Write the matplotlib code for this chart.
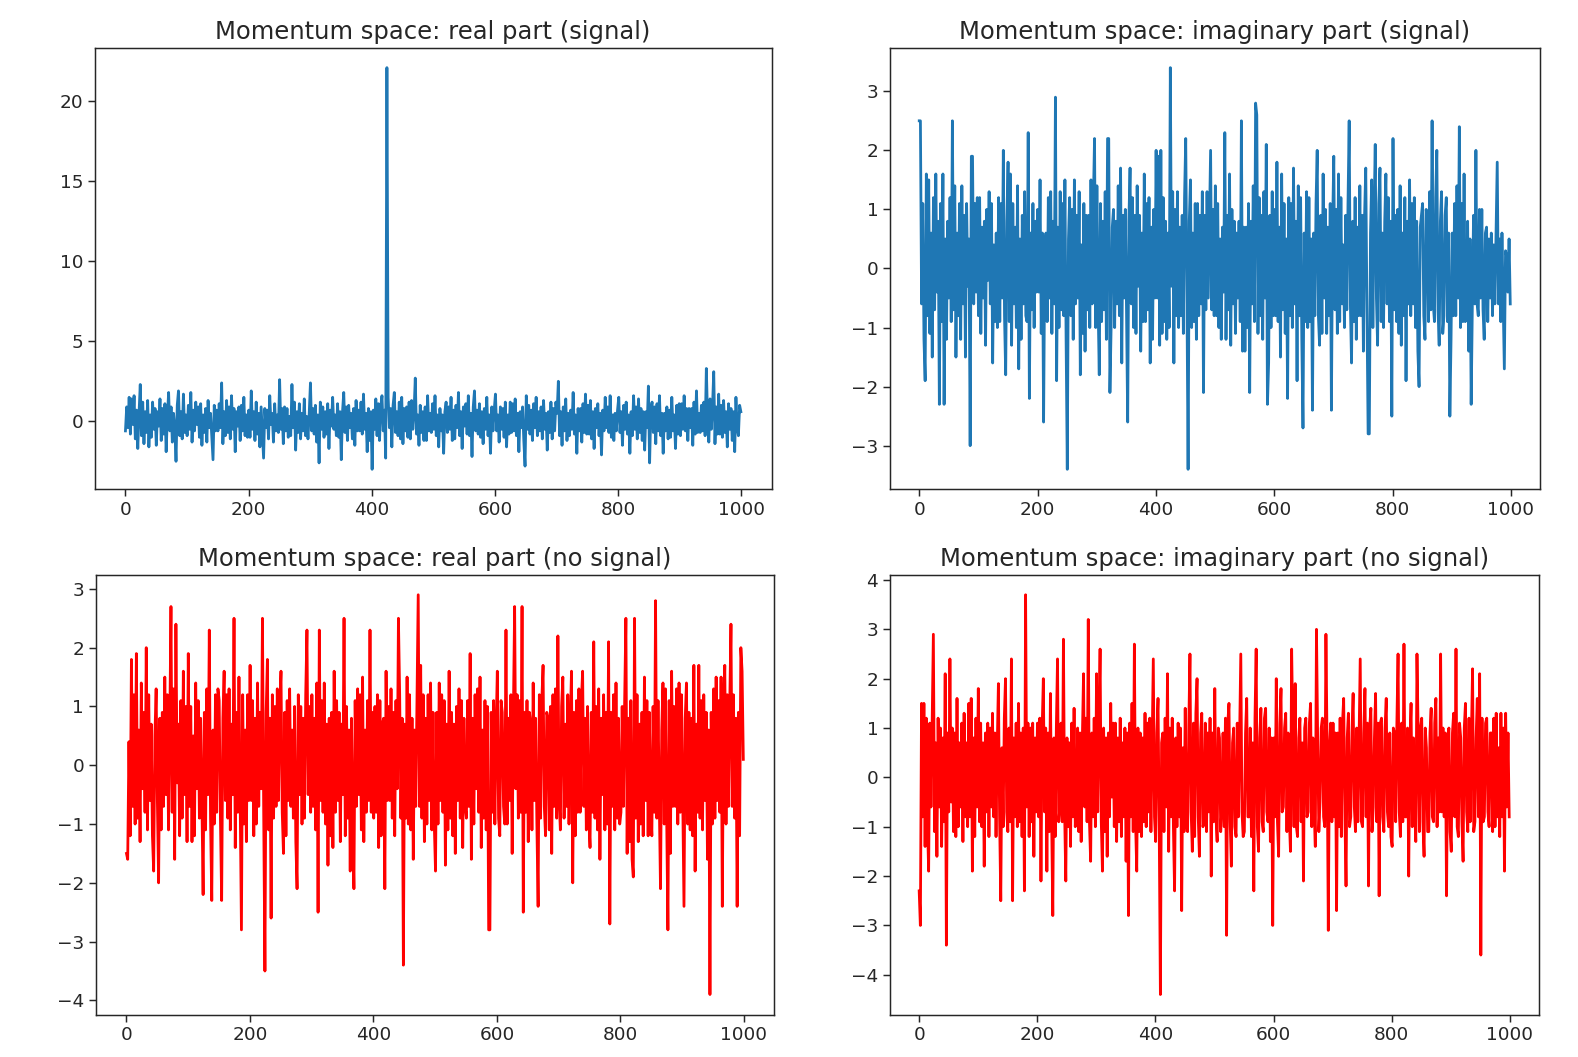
import numpy as np
import matplotlib
matplotlib.use("Agg")
import matplotlib.pyplot as plt

titles = [
    "Momentum space: real part (signal)",
    "Momentum space: imaginary part (signal)",
    "Momentum space: real part (no signal)",
    "Momentum space: imaginary part (no signal)",
]

real_signal = [
    -0.6, 0.9, -0.4, 1.5, -0.8, 1.4, -0.2, 1.6, -1.1, 0.7, -1.7, 0.5, 2.3, -0.9, 1.2, -1.4, 0.6, -0.7, 1.3, -1.6, 0.4, -1.0, 1.2, -0.5, 0.8,
    -1.5, 0.6, -0.3, 1.4, -1.2, 0.8, -0.8, 1.1, -1.9, 0.3, 1.8, -0.6, 0.9, -1.3, 0.5, -0.4, -2.5, 1.0, 1.9, -0.9, 0.6, -1.1, 1.7, -0.7, 0.4,
    -0.9, 1.0, -0.5, 1.8, -1.3, 0.7, -0.6, 1.2, -0.2, 0.9, -1.0, 1.1, -1.5, 0.4, -0.7, 0.8, -1.3, 1.3, -0.4, 0.5, -0.9, -2.4, 1.0, -0.6, 0.7,
    -0.6, 1.1, -0.4, 2.4, -1.4, 0.6, -0.9, 1.3, -0.7, 0.9, -1.1, 1.6, -0.5, 0.8, -1.9, 0.6, -0.3, 0.9, -1.2, 1.0, -0.6, 1.5, -0.9, 0.4, -1.0,
    0.7, -1.0, 1.9, -0.5, 0.6, -1.2, 1.2, -0.8, 0.5, -1.6, 0.9, -0.7, -2.3, 0.8, -0.4, 0.7, -1.1, 1.6, -0.2, 0.5, -1.3, 1.1, -0.6, 0.4, -0.7,
    2.6, -0.5, 0.8, -1.4, 0.9, -0.6, 0.8, -1.0, 0.3, -0.9, 2.3, -0.4, 1.2, -1.8, 0.6, -0.7, 1.1, -1.1, 0.5, -0.6, 1.4, -0.9, 0.3, -1.1, 0.5,
    2.4, -0.6, 0.8, -0.8, 1.0, -1.3, 0.4, -2.6, 1.2, -0.5, 0.9, -1.0, 0.6, -0.8, 1.1, -1.7, 0.7, -0.3, 1.5, -0.5, 0.4, -0.9, 1.1, -1.0, 0.6,
    -2.4, 0.6, 1.8, -0.7, 0.9, -1.2, 1.0, -0.4, 0.5, -1.1, 0.8, -1.5, 1.3, -0.6, 0.7, -0.6, 1.2, -0.8, 1.7, -0.5, 0.5, -1.9, 0.8, -1.2, 0.6,
    -3.0, 0.7, -0.5, 1.4, -0.9, 1.1, -1.2, 0.9, 1.6, -0.6, 0.7, -2.3, 22.1, 1.5, -0.4, 0.8, -1.6, 1.0, 1.8, -0.7, 0.6, -0.9, 1.2, -1.1, 1.5,
    -1.4, 0.8, -0.6, 0.9, -1.0, 1.2, -1.1, 1.3, -0.5, 0.6, 2.7, -0.8, 0.4, -1.5, 1.0, -0.7, 0.6, -1.2, 0.9, -1.2, 1.6, -0.6, 0.5, -0.7, 1.1,
    -0.5, 1.6, -0.9, 0.4, -1.6, 0.8, -0.6, 0.4, -2.0, 0.6, 1.2, -0.7, 0.9, -0.5, 1.5, -1.2, 0.7, -1.1, 1.0, -0.4, 1.8, -0.9, 0.6, -1.7, 0.9,
    -0.3, 1.1, -0.8, 1.6, -0.9, 0.5, -2.2, 0.9, 1.9, -0.6, 0.7, -0.8, 1.1, -1.0, 0.6, -1.4, 0.8, -0.5, 1.5, -0.9, 0.4, -2.0, 0.9, -0.6, 0.7,
    1.7, -0.6, 0.4, -1.3, 0.9, -0.5, 0.8, -1.0, 1.2, -1.6, 0.4, -0.8, 1.2, -0.7, 1.1, -0.6, 1.4, -0.9, 0.5, -1.9, 0.6, -0.4, 0.9, -1.2, -2.8,
    1.6, -0.5, 1.0, -0.8, 0.7, -1.2, 1.1, -0.4, 1.5, -0.9, 0.6, -0.6, 0.9, -1.1, 1.3, -0.5, 0.5, -1.8, 0.6, -0.7, 1.2, -1.1, 0.8, -0.6, 1.2,
    0.5, 2.5, -0.9, 0.6, -1.5, 0.9, -0.6, 1.4, -1.2, 0.5, -0.9, 0.7, -0.5, 1.8, -0.8, 0.4, -2.0, 0.8, -0.6, 0.8, -1.3, 1.1, -0.7, 1.7, -0.8,
    1.0, -0.8, 1.3, -1.1, 0.6, -1.7, 0.8, -0.4, 1.1, -0.9, 0.5, -2.1, 0.7, -0.6, 1.5, -0.4, 0.9, -0.7, 1.6, -1.0, 0.4, -1.2, 0.5, -0.6, 0.7,
    1.5, -0.7, 0.6, -1.5, 1.0, -0.5, 1.2, -0.8, 0.4, -2.0, 0.6, -0.9, 1.6, -0.5, 0.9, -1.1, 1.4, -0.7, 0.8, -1.2, 0.6, -1.8, 0.6, -0.4, 2.2,
    -2.6, 0.8, 1.2, -0.7, 0.9, -1.4, 1.1, -0.6, 1.6, -0.9, 0.5, -2.0, 0.5, -0.6, 0.9, -1.1, 0.7, -1.0, 1.5, -0.6, 0.4, -1.7, 1.0, -0.8, 1.1,
    -0.9, 1.1, -0.5, 1.6, -0.6, 0.8, -1.2, 0.8, -0.4, 0.8, -1.5, 1.2, -0.8, 1.9, -0.7, 0.5, -0.7, 1.0, -0.6, 1.2, -0.9, 3.3, 0.2, -1.3, 1.4,
    -0.5, 0.9, 3.1, -1.4, 0.9, -0.8, 1.7, -0.8, 1.0, -1.0, 1.3, -0.7, 0.6, -1.6, 1.1, -0.5, 0.8, -1.2, 0.6, -1.9, 1.5, -0.4, -0.9, 1.0, 0.6,
]

imag_signal = [
    2.5, 2.5, -0.6, 1.1, -1.2, -1.9, 1.6, -0.8, 1.5, -1.1, 0.6, -1.5, 1.2, -0.7, 1.6, -0.4, 0.8, -2.3, 1.1, -0.9, 1.6, -2.3, 0.5, -1.2, 0.8,
    -0.5, 1.2, -0.9, 2.5, -0.7, 1.4, -1.5, 0.6, -0.8, 1.1, -1.2, 1.4, -0.6, 0.9, -1.5, 1.1, -0.3, 0.5, -3.0, 1.9, 1.9, -0.6, 1.1, -0.4, 1.2,
    -0.8, 1.2, -1.1, 0.7, -0.5, 0.8, -1.3, 1.0, -0.2, 1.3, -0.6, 1.1, -1.6, 0.4, -0.9, 0.6, -1.0, 1.2, -0.9, 1.1, -0.5, 2.0, -0.8, -1.8, 0.8,
    1.8, -0.9, 1.6, -1.3, 1.1, -0.6, 0.7, -1.0, 1.4, -1.7, 0.5, -1.2, 0.9, -0.6, 1.3, -0.8, -0.9, 2.3, -2.2, 0.6, -0.7, 1.1, -1.0, 0.8, -0.4,
    1.0, -0.4, 1.5, -1.1, 0.6, -2.6, 0.3, 0.6, -0.9, 1.2, -0.5, 1.3, -1.1, 0.8, -0.6, 2.9, -1.9, 0.7, -1.0, 1.3, -0.7, 1.1, -0.8, 1.5, -1.2,
    -3.4, 0.5, 1.2, -0.8, 1.0, -1.2, 1.5, -0.6, 0.9, -0.5, 1.3, -1.8, 0.4, -1.1, 1.1, -1.4, 0.9, -0.7, 0.9, -1.0, 1.5, -0.6, 1.1, 2.2, -1.0,
    1.4, -0.6, -1.8, 1.1, -0.9, 0.8, -0.7, 1.3, -1.2, 2.2, 2.2, -2.1, -1.0, 0.7, 1.0, -1.0, 0.8, -0.6, 1.4, -0.8, 1.7, -1.6, 0.9, -0.5, 1.0,
    -0.7, -2.6, 0.8, 1.7, -0.6, 1.2, -1.0, 0.9, -1.1, 1.4, -0.3, 0.9, -1.4, 0.6, -0.9, 1.6, -0.9, 1.1, -0.7, 1.2, -1.6, 0.7, -1.2, 1.0, -0.5,
    2.0, -0.5, 1.9, -1.3, 2.0, -1.1, 1.2, -0.9, 0.8, -1.2, 0.6, -1.0, 3.4, -0.3, 1.3, -1.6, 1.0, -0.8, 1.3, -1.0, 0.7, -0.8, 0.9, -1.1, 1.2,
    2.2, -0.4, -3.4, 0.8, 1.5, -1.0, 0.6, -0.9, 1.1, -1.2, 1.1, -0.8, 0.9, -0.6, 1.3, -2.1, 0.9, -0.7, 1.3, -0.5, 0.8, 2.0, -0.7, 1.0, -0.8,
    1.4, -0.8, 1.1, -1.0, 0.5, -1.2, 0.7, -0.4, 2.3, -1.2, 0.9, -0.7, 1.6, -1.3, 1.0, -0.6, 0.8, -1.1, 0.6, -0.5, 0.8, -0.9, 2.5, -1.4, 0.7,
    -1.4, 0.7, -1.0, 1.1, -2.1, 0.8, -0.6, 1.4, -0.9, 2.8, 2.6, -1.1, 1.2, -0.8, 0.9, -1.2, 1.3, -0.5, 2.1, -2.3, -1.6, 0.9, -1.0, 1.3, -0.8,
    1.0, -0.8, 1.8, -0.9, 0.7, -1.5, 1.6, -0.7, 1.1, -1.1, 0.5, -2.2, 1.2, -0.8, 1.1, -1.0, 1.7, -0.6, 0.8, -1.9, 1.4, -0.8, 1.2, -1.2, -2.7,
    0.6, -0.9, 1.3, -1.0, 1.2, -0.9, 0.5, -2.4, 0.6, -0.8, 1.1, 2.0, -0.8, -1.3, 0.9, -1.1, 1.6, -0.5, 1.0, -1.1, 0.7, -0.8, 1.1, -2.4, 0.7,
    1.9, -0.7, 1.0, -1.1, 1.6, -0.9, 1.2, -0.6, 0.4, -1.0, 0.9, -0.7, 1.1, 2.5, -0.6, -1.6, 0.8, -0.9, 1.2, -1.2, 0.7, -0.8, 1.4, -0.8, 0.9,
    -1.4, 0.9, 1.7, -0.7, -2.8, -2.8, 0.6, 1.5, -1.0, 0.9, 2.1, -0.5, -1.3, 1.1, 1.7, -0.9, 0.6, -1.0, 0.8, 1.6, -0.6, 1.2, -0.9, 0.8, -2.5,
    2.2, -0.7, 0.9, -0.9, 1.0, -1.1, 1.4, -1.3, 0.6, -0.8, 1.2, -1.9, 0.8, -0.6, 1.5, -0.8, 1.1, -0.6, 1.2, -1.0, 0.8, -1.4, -2.0, 0.7, 0.9,
    1.1, -0.8, -1.2, 1.0, 0.8, -0.9, 1.3, -0.7, 2.5, -0.6, -0.9, 1.2, 2.0, -0.7, -1.3, 0.8, 1.3, -1.1, -0.8, 0.9, 1.2, -0.9, 0.6, -2.5, -1.2,
    0.6, -0.8, 1.1, -0.8, 1.4, -0.5, 2.4, -1.0, 1.1, -0.9, 1.6, -0.9, -0.7, 0.8, -1.4, 0.5, -2.3, -0.6, 0.9, -0.6, 2.0, -0.6, -0.8, 1.0, -0.5,
    1.0, -0.7, -1.2, 0.6, 0.7, -0.9, 0.5, -0.5, 0.6, -0.8, 0.4, -0.6, 0.6, 1.8, -0.6, 0.5, -0.9, 0.6, -0.5, -1.7, 0.3, 0.2, -0.4, 0.5, -0.6,
]

real_nosignal = [
    -1.5, -1.6, 0.4, -1.2, 1.8, -0.7, 1.2, -1.0, 1.9, -0.9, 0.6, -1.3, 1.4, -0.4, 0.9, -0.8, 2.0, -1.1, 1.2, -0.6, 0.7, -1.2, -1.8, 0.5, 1.3,
    -0.6, -2.0, 0.8, -1.1, 0.9, -0.7, 1.5, -0.5, 1.2, -1.1, 0.6, 2.7, -0.8, 1.3, -1.6, 2.4, -0.3, 0.7, -1.2, 1.1, -0.9, 1.6, -0.5, 1.0, -1.3,
    1.9, -0.7, 1.0, -1.3, 0.5, -1.2, 1.4, -0.4, 1.1, -0.9, 0.8, -0.6, -2.2, 0.9, -1.1, 1.3, -0.5, 2.3, -0.9, -2.3, 0.6, -1.0, 1.2, -0.8, 1.3,
    1.1, -0.9, -2.3, 0.8, 1.6, -0.6, 1.2, -0.9, 1.3, -1.1, 0.7, -0.5, 2.5, -1.4, 0.9, -0.8, 1.5, -0.7, -2.8, 1.2, -1.0, 0.6, -1.3, 1.2, -0.6,
    1.7, -0.6, 1.1, -1.2, 0.8, -1.0, 1.4, -0.7, 0.9, -0.4, 2.5, -0.8, -3.5, 0.9, 1.8, -1.1, 0.8, -2.6, 1.2, -0.9, 1.0, -0.7, 1.3, -0.6, 1.0,
    1.6, -0.8, -1.5, 0.9, -1.2, 1.1, -0.6, 1.3, -0.7, 0.6, -0.9, 1.0, -1.3, -2.1, 1.2, -0.5, 1.0, -1.0, 0.8, -0.9, 1.2, 2.3, -0.5, 1.0, -0.8,
    1.2, -0.7, 0.8, -1.1, 1.4, -2.5, 2.3, -0.6, 1.1, -0.8, 1.4, -1.0, 0.7, -1.7, 0.8, -1.2, 0.9, -1.4, 1.6, -0.8, 1.1, -0.6, 0.9, -1.3, 0.7,
    -0.5, 2.5, -1.2, 1.0, -0.9, 0.6, -1.8, 0.8, -1.0, -2.1, 1.1, -0.7, 1.3, -0.5, 1.2, -1.1, 1.5, -1.3, 0.6, -0.8, 1.1, -0.6, 2.3, -0.8, 0.9,
    -0.9, 1.0, -0.8, 1.2, -1.4, 1.1, -1.2, 0.7, 0.8, -2.1, 1.6, -0.6, 1.0, -0.6, 1.3, -0.9, 0.9, -1.2, 1.1, -0.4, 2.5, 1.2, -0.9, 0.8, -3.4,
    0.7, -0.9, 1.5, -1.0, 1.2, -1.1, 0.8, -1.6, 0.6, -0.7, 1.1, 2.9, -0.7, 1.7, -0.9, 1.2, -1.3, 0.8, -1.0, 1.2, -0.6, 1.4, -1.1, 0.9, -1.0,
    -1.8, 0.9, -1.0, 1.4, -0.6, 1.2, -0.8, 1.1, -1.7, 0.7, -1.1, 1.6, -0.9, 0.9, -1.2, 0.7, -1.5, 1.0, -0.6, 1.3, -0.9, 1.1, -1.4, 0.8, -0.7,
    -0.9, 1.1, -0.7, 1.9, -1.6, 0.8, -1.0, 1.2, -0.4, 1.3, -0.8, 1.5, -1.4, 0.6, -0.9, 1.1, -1.1, 1.0, -2.8, -2.8, 0.9, -0.8, 1.1, -1.0, 0.6,
    1.6, -0.9, -1.2, 1.1, 0.9, -0.7, -1.0, 2.3, -1.0, 0.8, -0.6, 1.2, -1.5, 0.9, 2.7, -0.4, 1.2, -0.9, 1.1, -0.8, 2.7, -2.5, 0.9, -0.8, 1.1,
    -1.3, 0.9, 0.7, -1.1, 1.4, -0.6, 0.8, -1.0, -2.4, 1.2, -0.9, 1.1, 1.7, -0.7, -1.2, 0.9, 0.8, -1.1, 1.0, -1.5, 1.2, -0.7, 1.3, -0.9, 2.2,
    -0.6, -1.1, 1.0, 1.5, -0.9, 0.7, -0.7, 1.2, -1.0, 0.7, 1.6, -2.0, 0.9, -1.2, 1.1, -0.8, 1.3, -0.8, 1.1, 1.6, -0.7, 0.8, -1.1, 1.0, -0.9,
    -1.4, 0.9, -0.8, 2.1, -0.9, 1.0, -1.1, 1.3, -1.6, 0.8, -0.5, 1.2, -1.1, 0.9, -1.0, 2.1, -2.7, 0.9, -0.7, 1.2, -1.1, 1.4, -0.9, 0.8, -1.0,
    -0.8, 1.0, -0.7, 1.1, 2.5, -1.5, 0.8, -1.3, 1.1, -1.6, -1.9, 2.5, -0.9, 1.2, -1.3, 0.7, -1.0, 0.9, -1.2, 1.5, -0.6, 1.1, -1.2, 0.9, -0.7,
    -1.2, 1.0, -0.8, 2.8, -0.9, 1.1, -0.6, -2.1, 0.6, 1.4, -1.0, 1.3, -0.9, -2.8, 1.1, -1.5, 1.6, -0.7, 1.0, -0.7, 1.3, -1.0, 1.4, -0.8, 1.2,
    -0.6, -2.4, 0.8, 1.4, -1.0, 0.9, -1.1, 0.8, -1.2, 1.7, -1.8, 0.7, -0.8, 1.7, -0.9, 1.1, -1.1, 1.2, -0.6, 0.9, -1.6, 0.6, -3.9, 0.9, -1.0,
    1.3, -0.9, 1.5, -0.6, 1.1, -0.8, 1.5, -2.4, 0.9, 1.7, -1.0, 1.2, -0.7, 1.0, 2.4, -0.7, 1.2, -0.9, 0.8, -2.4, 0.9, -1.2, 2.0, 1.6, 0.1,
]

imag_nosignal = [
    -2.3, -3.0, 1.5, -0.8, 1.5, -1.4, 1.2, -0.9, -1.9, 1.1, -0.6, 1.2, 2.9, -1.1, 0.7, -1.6, 1.2, -0.6, 1.0, -1.4, 0.8, -0.9, 2.1, -3.4, 0.9,
    -0.7, 2.4, -0.5, 1.0, -1.1, 0.9, -1.2, 1.6, -1.0, 0.7, -0.6, 1.1, -1.3, 1.3, -0.8, 0.7, -1.0, 1.5, -0.8, 1.6, -1.9, 0.8, -1.2, 1.2, -0.6,
    1.8, -0.9, 1.1, -1.0, 0.7, -1.8, 0.9, -0.7, 1.1, -1.2, 1.0, -0.6, 1.3, -0.8, 0.9, -1.2, 0.6, 1.9, -0.8, -2.5, 0.6, -1.0, 1.2, 2.0, -0.7,
    -1.1, 1.0, -0.9, 2.4, -2.5, 0.8, -0.8, 1.1, -1.0, 1.5, -0.9, 0.9, -1.2, 1.0, -2.3, 3.7, -0.6, 1.1, -1.2, 1.0, -0.9, 1.1, -1.6, 0.8, -0.7,
    1.1, -0.8, 1.2, -2.1, 1.0, 2.0, -0.7, 1.0, -1.9, 0.9, -1.1, 1.7, -0.8, -2.8, 0.8, -1.2, 1.0, 2.4, -0.9, -0.6, 1.1, -0.9, 2.8, -0.7, -2.1,
    0.8, -1.0, 0.7, -1.4, 1.1, -0.8, 1.4, -1.0, -0.5, 1.0, -1.1, 0.9, -1.3, 0.8, 2.1, -0.6, 1.2, -0.9, 3.2, -0.9, -1.7, 0.9, -0.8, 1.2, -1.0,
    2.1, -0.7, 1.1, 2.6, -0.9, -1.9, 1.0, -1.1, 0.8, -1.6, 0.9, -0.8, 1.5, -0.4, 1.1, -1.0, 1.1, -1.3, 0.8, -0.9, 1.2, -1.2, 0.7, -0.8, 1.0,
    -1.7, 0.9, -2.8, 1.1, -0.8, 1.5, -1.1, 2.7, -0.9, -1.9, 1.0, -1.1, 0.9, -1.2, 0.8, -0.9, 1.3, -1.0, 1.1, -0.7, 1.2, -1.1, 0.6, 2.4, -0.8,
    -1.3, 0.9, 1.6, -1.0, -4.4, 0.7, 0.9, -1.1, 1.2, -0.6, 2.1, -1.5, 1.0, -0.8, 1.2, -1.0, -2.3, 0.8, -1.0, 1.1, -0.8, 1.0, -2.7, 0.6, -1.1,
    1.4, -0.9, -1.1, 1.0, 2.5, -0.7, -1.5, 1.1, -1.2, 1.3, 2.0, -0.8, -1.6, 0.9, 1.3, -1.0, -0.9, 1.1, -1.1, 0.9, -0.7, 1.2, -2.0, 0.9, -0.9,
    1.8, -0.8, -1.3, 1.0, 0.8, -1.1, -0.6, 0.9, -1.0, 1.2, -3.2, 1.1, 1.5, -0.9, -1.8, 0.7, 1.0, -1.0, -1.2, 1.1, -0.8, 0.9, 2.5, -0.7, -1.2,
    -1.1, 0.9, 1.6, -0.8, -0.8, 1.0, -1.2, 0.7, -2.3, 1.2, 2.6, -1.0, -1.5, 0.8, 1.4, -0.9, -1.1, 1.2, 1.4, -0.7, -0.9, 1.0, -1.3, 0.8, -3.0,
    0.8, -0.8, 2.0, -0.9, -1.6, 1.1, 1.8, -0.7, -0.6, 1.0, 1.3, -1.1, 0.9, -0.8, -1.5, 2.6, 0.9, -1.0, 1.9, -1.0, -1.2, 0.8, 1.2, -0.9, 0.7,
    -2.1, 1.0, 1.2, -0.8, -0.7, 1.1, 1.5, -1.0, 0.8, -0.6, -1.4, 3.0, 0.8, -1.1, -0.5, 1.0, 1.2, -0.8, -1.0, 2.9, 0.6, -3.1, 0.6, 1.1, -0.9,
    1.1, -0.8, 0.9, -2.7, 0.9, -1.0, 1.2, -1.2, 1.1, 1.6, -0.7, -2.2, 0.8, 1.3, -1.0, -0.8, 0.9, 1.7, -0.6, -1.1, 1.0, -0.9, 0.8, 2.4, -0.9,
    -1.0, 0.9, 1.8, -0.8, 1.1, -2.2, 1.0, 1.4, -1.1, -0.6, 0.8, 1.7, -0.9, 1.1, -2.4, 1.1, 1.2, -0.8, -1.1, 1.0, 1.6, -0.7, -1.0, 0.9, -1.2,
    -1.4, 1.0, 0.9, -0.9, 1.1, 2.5, -0.7, -1.2, 1.1, -0.9, 2.7, -0.8, -0.8, 1.0, -2.0, 0.7, 1.5, -1.0, 0.8, -0.6, -1.3, 2.5, 0.9, -1.1, 1.0,
    1.2, -0.9, -1.6, 1.0, 0.6, -1.1, -1.1, 0.9, 1.4, -0.8, -0.9, 1.1, 1.6, -1.0, 0.8, -0.7, 2.5, -0.7, 1.0, -0.8, 0.9, -2.4, 0.8, 1.0, -1.1,
    -1.5, 0.9, 1.3, -0.8, 2.6, -1.0, -1.2, 1.1, 0.8, -0.9, -1.7, 1.0, 1.5, -0.7, -1.1, 1.2, -0.9, 0.8, 2.2, -1.1, -0.9, 0.8, 1.6, -0.8, 2.1,
    -3.6, 1.2, -0.9, -0.8, 1.1, 1.2, -0.7, -1.0, 0.9, 0.9, -1.1, 1.2, -1.0, 1.3, -0.8, 0.6, -1.2, 1.3, -0.8, 1.0, -1.9, 1.3, -0.6, 0.9, -0.8,
]

series = [real_signal, imag_signal, real_nosignal, imag_nosignal]
colors = ["#1f77b4", "#1f77b4", "red", "red"]

positions = [
    [0.0600, 0.5370, 0.4290, 0.4180],
    [0.5638, 0.5370, 0.4120, 0.4180],
    [0.0606, 0.0402, 0.4300, 0.4160],
    [0.5638, 0.0402, 0.4113, 0.4160],
]

text_color = "#262626"
fig = plt.figure(figsize=(15.78, 10.57), dpi=100)
for pos, title, vals, col in zip(positions, titles, series, colors):
    ax = fig.add_axes(pos)
    y = np.array(vals)
    x = np.linspace(0, 999, len(y))
    ax.plot(x, y, color=col, linewidth=2.0)
    ax.set_title(title, fontsize=17.5, pad=6, color=text_color)
    ax.set_xticks([0, 200, 400, 600, 800, 1000])
    ax.tick_params(labelsize=13.3, length=4.7, width=1.07, labelcolor=text_color, color=text_color)
    for s in ax.spines.values():
        s.set_linewidth(1.07)
        s.set_color(text_color)

fig.savefig("out.png", dpi=100)
